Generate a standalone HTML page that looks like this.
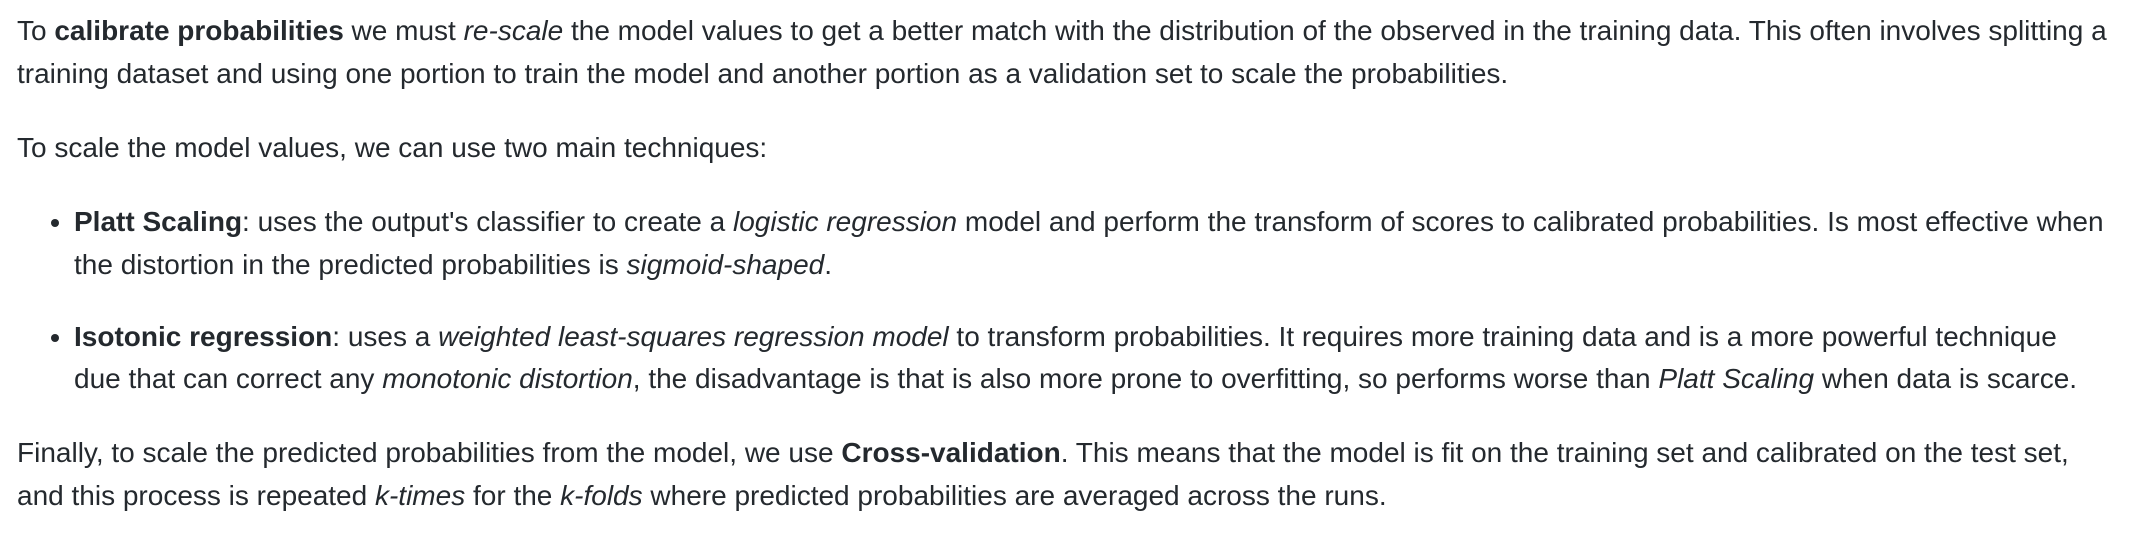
<!DOCTYPE html>
<html><head><meta charset="utf-8"><style>
html,body{margin:0;padding:0;background:#fff;width:2154px;height:548px;overflow:hidden}
body{font-family:"Liberation Sans",Arial,sans-serif;font-size:28px;line-height:43.2px;color:#24292e;padding:9px 0 0 17px;box-sizing:border-box}
p{margin:0 0 30.5px 0;white-space:nowrap}
ul{margin:0 0 30.5px 0;padding:0 0 0 57px}
li{margin:0 0 30px 0;white-space:nowrap}
li:last-child{line-height:42px}
</style></head><body>
<p>To <b>calibrate probabilities</b> we must <i>re-scale</i> the model values to get a better match with the distribution of the observed in the training data. This often involves splitting a<br>training dataset and using one portion to train the model and another portion as a validation set to scale the probabilities.</p>
<p>To scale the model values, we can use two main techniques:</p>
<ul>
<li><b>Platt Scaling</b>: uses the output's classifier to create a <i>logistic regression</i> model and perform the transform of scores to calibrated probabilities. Is most effective when<br>the distortion in the predicted probabilities is <i>sigmoid-shaped</i>.</li>
<li><b>Isotonic regression</b>: uses a <i>weighted least-squares regression model</i> to transform probabilities. It requires more training data and is a more powerful technique<br>due that can correct any <i>monotonic distortion</i>, the disadvantage is that is also more prone to overfitting, so performs worse than <i>Platt Scaling</i> when data is scarce.</li>
</ul>
<p>Finally, to scale the predicted probabilities from the model, we use <b>Cross-validation</b>. This means that the model is fit on the training set and calibrated on the test set,<br>and this process is repeated <i>k-times</i> for the <i>k-folds</i> where predicted probabilities are averaged across the runs.</p>
</body></html>
